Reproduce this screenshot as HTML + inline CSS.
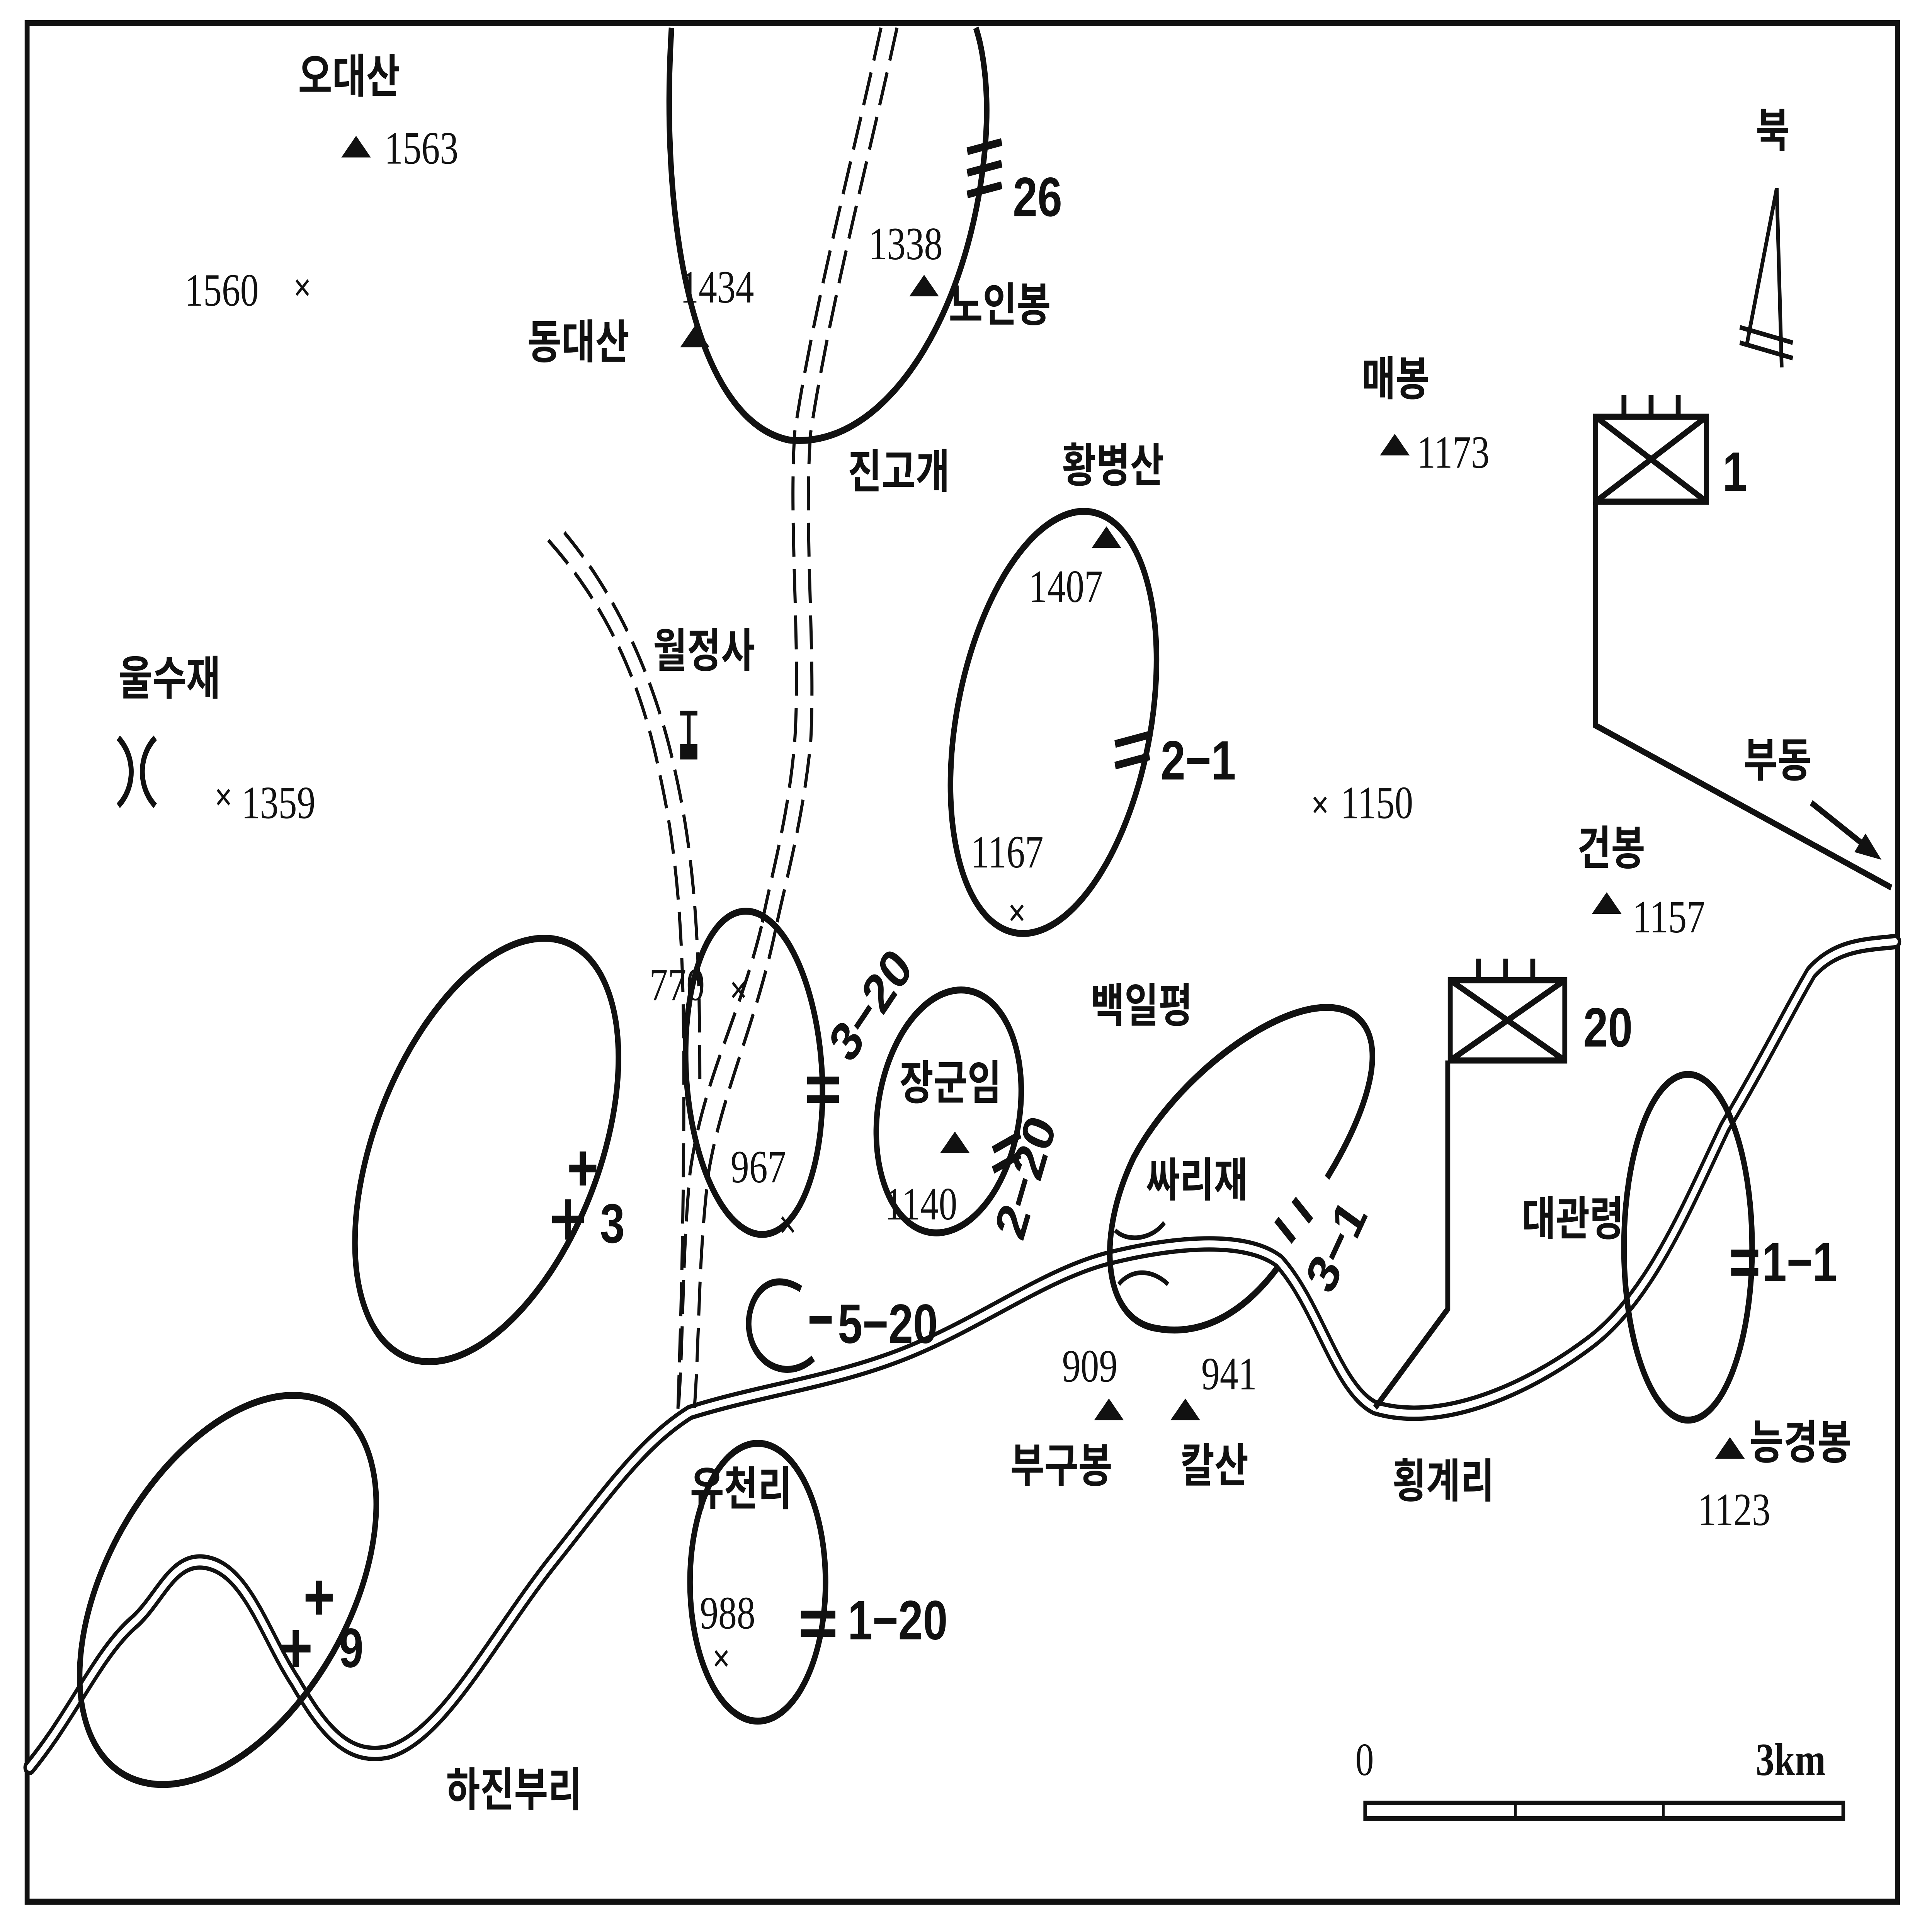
<!DOCTYPE html>
<html><head><meta charset="utf-8">
<style>
html,body{margin:0;padding:0;background:#fff;width:100%;height:100%;overflow:hidden;}
svg{display:block;width:100vw;height:100vh;position:absolute;left:0;top:0;}
text{font-family:"Liberation Serif","Noto Sans CJK KR",serif;fill:#111;}
.k{font-family:"Liberation Sans","Noto Sans CJK KR",sans-serif;font-weight:bold;font-size:30px;}
.n{font-size:30px;}
.b{font-family:"Liberation Sans","Noto Sans CJK KR",sans-serif;font-weight:bold;font-size:36px;}
</style></head>
<body>
<svg viewBox="0 0 1568 1251.6" preserveAspectRatio="none" xmlns="http://www.w3.org/2000/svg">
<rect x="0" y="0" width="1568" height="1252" fill="#fff"/>
<rect x="22" y="15" width="1518" height="1217" fill="none" stroke="#111" stroke-width="4"/>

<!-- river -->
<g fill="none" stroke-linejoin="round" stroke-linecap="round">
<path d="M24,1145 C60,1110 80,1070 110,1050 C130,1035 140,1010 165,1012 C200,1015 215,1060 240,1090 C265,1125 285,1140 315,1135 C360,1125 400,1060 450,1010 C490,970 520,935 560,915 C620,900 680,895 740,875 C800,855 850,825 900,815 C950,805 1010,800 1038,817 C1070,845 1085,900 1116,912 C1170,925 1240,900 1290,870 C1340,840 1370,780 1400,730 C1430,690 1455,650 1470,630 C1490,612 1515,612 1538,610" stroke="#111" stroke-width="10"/>
<path d="M24,1145 C60,1110 80,1070 110,1050 C130,1035 140,1010 165,1012 C200,1015 215,1060 240,1090 C265,1125 285,1140 315,1135 C360,1125 400,1060 450,1010 C490,970 520,935 560,915 C620,900 680,895 740,875 C800,855 850,825 900,815 C950,805 1010,800 1038,817 C1070,845 1085,900 1116,912 C1170,925 1240,900 1290,870 C1340,840 1370,780 1400,730 C1430,690 1455,650 1470,630 C1490,612 1515,612 1538,610" stroke="#fff" stroke-width="4.5"/>
</g>

<!-- roads -->
<g fill="none" stroke="#111" stroke-width="2.5" stroke-dasharray="22,8">
<path d="M715,18 C690,110 660,200 645,280 C640,340 650,420 645,480 C640,530 625,570 618,600"/>
<path d="M728,18 C703,110 673,200 658,280 C652,340 662,420 658,480 C652,530 638,570 630,600"/>
<path d="M618,600 C600,660 570,700 560,760 C553,820 555,870 550,918"/>
<path d="M630,600 C615,660 585,710 575,760 C566,820 568,870 563,918"/>
<path d="M445,350 C490,390 520,440 535,500 C552,560 555,620 555,700 C555,800 552,870 550,918"/>
<path d="M458,345 C500,385 532,440 548,500 C565,560 568,620 568,700"/>
</g>

<!-- loops -->
<g fill="none" stroke="#111" stroke-width="4.5">
<path d="M545,18 C535,150 565,272 640,285 C720,292 790,200 800,90 C803,55 797,30 792,18"/>
<ellipse cx="855" cy="468" rx="78" ry="140" transform="rotate(15 855 468)"/>
<ellipse cx="395" cy="745" rx="88" ry="150" transform="rotate(30 395 745)"/>
<ellipse cx="612" cy="695" rx="55" ry="105" transform="rotate(-5 612 695)"/>
<ellipse cx="770" cy="720" rx="57" ry="80" transform="rotate(15 770 720)"/>
<path d="M1077,763 C1110,720 1128,675 1100,658 C1060,635 960,690 920,750 C890,800 895,852 935,860 C980,868 1015,845 1038,820"/>
<path d="M650,835 C620,820 605,845 608,862 C612,885 640,895 660,880"/>
<ellipse cx="185" cy="1030" rx="92" ry="148" transform="rotate(42 185 1030)"/>
<ellipse cx="615" cy="1025" rx="55" ry="90"/>
<ellipse cx="1370" cy="808" rx="52" ry="112"/>
</g>

<!-- units -->
<g fill="none" stroke="#111" stroke-width="4">
<rect x="1295" y="270" width="90" height="55"/>
<path d="M1295,270 L1385,325 M1385,270 L1295,325"/>
<path d="M1318,270 v-14 M1340,270 v-14 M1362,270 v-14"/>
<path d="M1295,325 V470 L1535,575"/>
<rect x="1177" y="635" width="93" height="52"/>
<path d="M1177,635 L1270,687 M1270,635 L1177,687"/>
<path d="M1200,635 v-14 M1222,635 v-14 M1244,635 v-14"/>
<path d="M1175,687 V848 L1116,912"/>
<path d="M1470,520 L1520,552"/>
</g>
<path d="M1527,557 L1505,552 L1514,540 Z" fill="#111"/>

<!-- north arrow -->
<g fill="none" stroke="#111" stroke-width="3">
<path d="M1418,222 L1442,122 L1446,238"/>
<path d="M1412,212 L1455,222 M1412,222 L1455,232"/>
</g>
<text x="1425" y="95" class="k" font-size="32">북</text>

<!-- scale -->
<rect x="1108" y="1168" width="388" height="10" fill="none" stroke="#111" stroke-width="3"/>
<path d="M1230,1168 v10 M1350,1168 v10" stroke="#111" stroke-width="2"/>
<text x="1100" y="1150" class="n">0</text>
<text x="1425" y="1150" class="n" font-weight="bold">3km</text>

<!-- peaks -->
<g fill="#111">
<path d="M277,102 l12,-14 l12,14z"/>
<path d="M552,225 l12,-14 l12,14z"/>
<path d="M738,192 l12,-14 l12,14z"/>
<path d="M886,355 l12,-14 l12,14z"/>
<path d="M1120,295 l12,-14 l12,14z"/>
<path d="M1292,592 l12,-14 l12,14z"/>
<path d="M763,747 l12,-14 l12,14z"/>
<path d="M888,920 l12,-14 l12,14z"/>
<path d="M950,920 l12,-14 l12,14z"/>
<path d="M1392,945 l12,-14 l12,14z"/>
<rect x="552" y="482" width="14" height="10"/>
</g>
<path d="M559,482 V462 M552,462 h14" stroke="#111" stroke-width="3"/>

<!-- x marks -->
<g font-size="26" font-family="Liberation Sans,sans-serif" font-weight="bold">
<text x="238" y="195">×</text>
<text x="174" y="525">×</text>
<text x="1064" y="530">×</text>
<text x="818" y="600">×</text>
<text x="592" y="650">×</text>
<text x="632" y="802">×</text>
<text x="578" y="1083">×</text>
</g>

<path d="M96,478 C110,490 110,510 96,522 M126,478 C112,490 112,510 126,522" fill="none" stroke="#111" stroke-width="4"/>
<path d="M905,797 C915,805 935,803 945,792 M908,832 C918,822 935,822 948,832" fill="none" stroke="#111" stroke-width="3"/>

<!-- labels -->
<text x="242" y="60" class="k">오대산</text>
<text x="312" y="106" class="n">1563</text>
<text x="150" y="198" class="n">1560</text>
<text x="552" y="196" class="n">1434</text>
<text x="705" y="168" class="n">1338</text>
<text x="428" y="232" class="k">동대산</text>
<text x="770" y="208" class="k">노인봉</text>
<text x="688" y="316" class="k">진고개</text>
<text x="862" y="312" class="k">황병산</text>
<text x="1105" y="256" class="k">매봉</text>
<text x="1150" y="303" class="n">1173</text>
<text x="835" y="390" class="n">1407</text>
<text x="530" y="432" class="k">월정사</text>
<text x="96" y="450" class="k">울수재</text>
<text x="196" y="530" class="n">1359</text>
<text x="1088" y="530" class="n">1150</text>
<text x="788" y="562" class="n">1167</text>
<text x="1415" y="503" class="k">부동</text>
<text x="1280" y="560" class="k">건봉</text>
<text x="1325" y="604" class="n">1157</text>
<text x="527" y="648" class="n">770</text>
<text x="885" y="662" class="k" font-size="26">백일평</text>
<text x="730" y="712" class="k">장군임</text>
<text x="593" y="766" class="n">967</text>
<text x="718" y="790" class="n">1140</text>
<text x="930" y="775" class="k">싸리재</text>
<text x="1235" y="800" class="k">대관령</text>
<text x="862" y="895" class="n">909</text>
<text x="975" y="900" class="n">941</text>
<text x="820" y="960" class="k">부구봉</text>
<text x="958" y="960" class="k">칼산</text>
<text x="1130" y="970" class="k">횡계리</text>
<text x="1420" y="945" class="k">능경봉</text>
<text x="1378" y="988" class="n">1123</text>
<text x="560" y="975" class="k">유천리</text>
<text x="568" y="1055" class="n">988</text>
<text x="362" y="1170" class="k">하진부리</text>

<text x="822" y="140" class="b">26</text>
<text x="942" y="505" class="b">2−1</text>
<text x="690" y="690" class="b" transform="rotate(-50 690 690)">3−20</text>
<text x="830" y="805" class="b" transform="rotate(-70 830 805)">2−20</text>
<text x="1080" y="840" class="b" transform="rotate(-60 1080 840)">3−1</text>
<text x="680" y="870" class="b">5−20</text>
<text x="688" y="1062" class="b">1−20</text>
<text x="1430" y="830" class="b">1−1</text>
<text x="1398" y="318" class="b">1</text>
<text x="1285" y="678" class="b">20</text>
<text x="487" y="805" class="b">3</text>
<text x="275" y="1080" class="b">9</text>
<g stroke="#111" stroke-width="5">
<path d="M785,98 l28,-6 M785,112 l28,-6 M785,126 l28,-6"/>
<path d="M905,482 l28,-6 M905,496 l28,-6"/>
<path d="M655,700 h26 M655,712 h26"/>
<path d="M806,745 l22,-10 M806,758 l22,-10"/>
<path d="M1050,777 l14,14 M1036,790 l14,14"/>
<path d="M1405,812 h22 M1405,824 h22"/>
<path d="M650,1046 h28 M650,1058 h28"/>
<path d="M657,855 h18"/>
<path d="M448,790 h26 M461,777 v26 M462,757 h22 M473,746 v22"/>
<path d="M228,1068 h24 M240,1056 v24 M248,1035 h22 M259,1024 v22"/>
</g>
</svg>
</body></html>
